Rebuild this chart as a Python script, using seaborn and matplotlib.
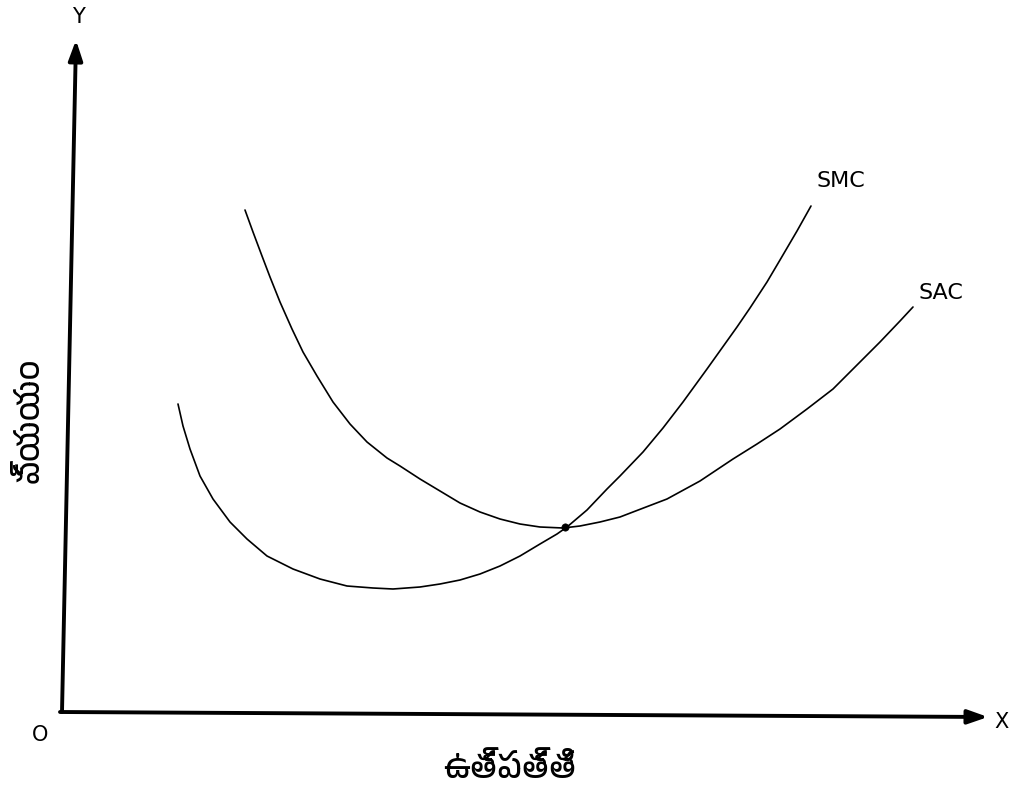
import numpy as np
import pandas as pd
import matplotlib
matplotlib.use("Agg")
import matplotlib.pyplot as plt
from matplotlib import font_manager
import seaborn as sns

# short-run marginal cost
smc_x = [11.6, 12.1, 12.8, 13.8, 15.1, 16.8, 18.5, 20.5, 23.1, 25.8, 28.5, 31.1, 33.1, 35.8, 37.8, 39.8, 41.8, 43.8,
         45.8, 47.8, 49.5, 50.5, 52.5, 54.5, 55.8, 58.1, 60.1, 62.1, 64.5, 66.5, 67.5, 68.8, 70.5, 71.8, 73.5, 74.9]
smc_y = [30.8, 28.6, 26.3, 23.6, 21.3, 19.0, 17.3, 15.6, 14.3, 13.3, 12.6, 12.4, 12.3, 12.5, 12.8, 13.2, 13.8, 14.6,
         15.6, 16.8, 17.8, 18.5, 20.2, 22.3, 23.6, 26.0, 28.4, 31.0, 34.3, 37.1, 38.5, 40.4, 43.0, 45.2, 48.1, 50.6]
# short-run average cost
sac_x = [18.3, 19.1, 20.0, 20.8, 21.8, 23.0, 24.1, 25.5, 27.1, 28.8, 30.5, 32.5, 33.8, 35.8, 37.8, 39.8, 41.8, 43.8,
         45.8, 47.8, 50.1, 51.8, 53.8, 55.8, 57.1, 60.5, 63.8, 67.1, 69.5, 71.8, 74.5, 77.1, 79.8, 81.8, 83.8, 85.1]
sac_y = [50.2, 48.0, 45.6, 43.5, 41.0, 38.3, 36.0, 33.6, 31.0, 28.8, 27.0, 25.4, 24.6, 23.3, 22.1, 20.9, 20.0, 19.3,
         18.8, 18.5, 18.4, 18.6, 19.0, 19.5, 20.0, 21.3, 23.1, 25.3, 26.8, 28.3, 30.3, 32.3, 35.0, 37.0, 39.1, 40.5]
# point where SMC cuts SAC at its minimum
cross_x = [50.3]
cross_y = [18.5]

curve_names = ["SMC", "SAC"]
x_label = "ఉత్పత్తి"
y_label = "వ్యయం"

sns.set_theme(style="white")

# pick a Telugu font if the machine has one
tel = [f.name for f in font_manager.fontManager.ttflist if "telugu" in f.name.lower()]
tel_family = tel[:1] + ["DejaVu Sans"]

df = pd.concat([
    pd.DataFrame({"x": smc_x, "y": smc_y, "curve": curve_names[0]}),
    pd.DataFrame({"x": sac_x, "y": sac_y, "curve": curve_names[1]}),
])

fig = plt.figure(figsize=(10.2, 8.04), dpi=100)
ax = fig.add_axes([0, 0, 1, 1])
sns.lineplot(data=df, x="x", y="y", units="curve", estimator=None, sort=False,
             color="black", linewidth=1.2, ax=ax, legend=False,
             solid_joinstyle="round", solid_capstyle="round")
sns.scatterplot(x=cross_x, y=cross_y, color="black", s=28, edgecolor="black", ax=ax, zorder=5)

ax.set_xlim(-6.2, 95.8)
ax.set_ylim(-9.1, 71.3)
ax.axis("off")

# axes drawn as arrows
arrow = dict(arrowstyle="-|>,head_length=1.0,head_width=0.35", color="black", lw=2.8, shrinkA=0, shrinkB=0)
ax.annotate("", xy=(1.4, 67.2), xytext=(0, 0), arrowprops=arrow)
ax.annotate("", xy=(92.6, -0.5), xytext=(-0.2, 0), arrowprops=arrow)

txt = dict(fontsize=15, ha="center", va="center", color="black")
ax.text(1.6, 69.6, "Y", **txt)
ax.text(-2.2, -2.2, "O", **txt)
ax.text(94.0, -0.9, "X", **txt)
ax.text(77.9, 53.2, curve_names[0], **{**txt, "fontsize": 16})
ax.text(87.9, 42.0, curve_names[1], **{**txt, "fontsize": 16})

ax.text(-3.3, 29.3, y_label, fontsize=23, rotation=90, ha="center", va="center", color="black", family=tel_family)
ax.text(44.8, -5.6, x_label, fontsize=24, ha="center", va="center", color="black", family=tel_family)

fig.savefig("out.png", dpi=100, facecolor="white")
